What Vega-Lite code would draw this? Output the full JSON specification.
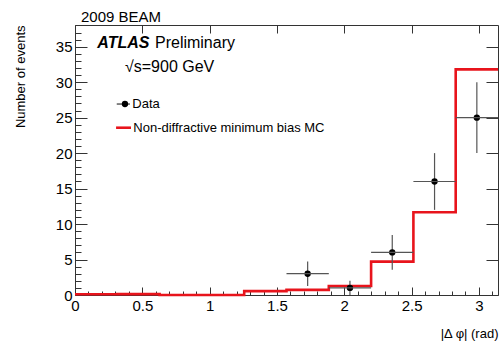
{
  "$schema": "https://vega.github.io/schema/vega-lite/v6.json",
  "width": 423,
  "height": 270,
  "autosize": {"type": "none"},
  "padding": {"left": 75, "top": 25, "right": 1, "bottom": 48},
  "title": {"text": "2009 BEAM", "anchor": "start", "frame": "group", "dx": 6, "offset": 0, "fontSize": 15, "fontWeight": "normal", "font": "Liberation Sans", "color": "black"},
  "config": {
    "view": {"stroke": "#333", "strokeWidth": 1}
  },
  "datasets": {
    "mc": [
      {"phi": 0, "n": 0.1}, {"phi": 0.3142, "n": 0.12}, {"phi": 0.6283, "n": 0.0}, {"phi": 0.9425, "n": 0.0},
      {"phi": 1.2566, "n": 0.55}, {"phi": 1.5708, "n": 0.72}, {"phi": 1.885, "n": 1.27}, {"phi": 2.1991, "n": 4.7},
      {"phi": 2.5133, "n": 11.66}, {"phi": 2.8274, "n": 31.8}, {"phi": 3.1416, "n": 31.8}
    ],
    "obs": [
      {"lo": 1.5708, "hi": 1.885, "c": 1.7279, "n": 3, "elo": 1.27, "ehi": 4.73},
      {"lo": 1.885, "hi": 2.1991, "c": 2.042, "n": 1, "elo": 0, "ehi": 2},
      {"lo": 2.1991, "hi": 2.5133, "c": 2.3562, "n": 6, "elo": 3.55, "ehi": 8.45},
      {"lo": 2.5133, "hi": 2.8274, "c": 2.6704, "n": 16, "elo": 12, "ehi": 20},
      {"lo": 2.8274, "hi": 3.1416, "c": 2.9845, "n": 25, "elo": 20, "ehi": 30}
    ],
    "legpt": [{"x": 0.371, "lo": 0.31, "hi": 0.408, "y": 26.92}],
    "legline": [{"lo": 0.305, "hi": 0.416, "y": 23.58}],
    "small": [
      {"x": 0.426, "y": 26.92, "t": "Data"},
      {"x": 0.433, "y": 23.58, "t": "Non-diffractive minimum bias MC"}
    ],
    "big": [
      {"x": 0.594, "y": 35.48, "t": "Preliminary"},
      {"x": 0.371, "y": 32.18, "t": "√s=900 GeV"}
    ],
    "atlas": [{"x": 0.166, "y": 35.48, "t": "ATLAS"}]
  },
  "layer": [
    {
      "data": {"name": "mc"},
      "mark": {"type": "line", "interpolate": "step-after", "color": "#e8141c", "strokeWidth": 2.6},
      "encoding": {
        "x": {"field": "phi", "type": "quantitative", "scale": {"domain": [0, 3.1416], "nice": false},
          "axis": {"orient": "bottom", "ticks": true, "tickSize": -8, "tickColor": "#333", "domain": false, "grid": false, "format": "~g", "values": [0, 0.5, 1, 1.5, 2, 2.5, 3], "labelFont": "Liberation Sans", "labelFontSize": 15, "labelColor": "black", "labelPadding": 11, "labelFlush": false, "title": "|Δ φ| (rad)", "titleFont": "Liberation Sans", "titleColor": "black", "titleAnchor": "end", "titleFontSize": 13, "titleFontWeight": "normal", "titlePadding": 14}},
        "y": {"field": "n", "type": "quantitative", "scale": {"domain": [0, 38.06], "nice": false},
          "axis": {"orient": "left", "ticks": true, "tickSize": -12, "tickColor": "#333", "domain": false, "grid": false, "values": [0, 5, 10, 15, 20, 25, 30, 35], "labelFont": "Liberation Sans", "labelFontSize": 15, "labelColor": "black", "labelPadding": 15, "labelFlush": false, "title": "Number of events", "titleFont": "Liberation Sans", "titleColor": "black", "titleAnchor": "end", "titleFontSize": 13, "titleFontWeight": "normal", "titlePadding": 28}}
      }
    },
    {
      "data": {"name": "obs"},
      "mark": {"type": "rule", "color": "#555", "strokeWidth": 1.2},
      "encoding": {
        "x": {"field": "c", "type": "quantitative", "scale": {"domain": [0, 3.1416], "nice": false},
          "axis": {"orient": "bottom", "labels": false, "title": null, "domain": false, "grid": false, "tickColor": "#333", "tickSize": -4, "values": [0.1, 0.2, 0.3, 0.4, 0.6, 0.7, 0.8, 0.9, 1.1, 1.2, 1.3, 1.4, 1.6, 1.7, 1.8, 1.9, 2.1, 2.2, 2.3, 2.4, 2.6, 2.7, 2.8, 2.9, 3.1]}},
        "y": {"field": "elo", "type": "quantitative", "scale": {"domain": [0, 38.06], "nice": false},
          "axis": {"orient": "left", "labels": false, "title": null, "domain": false, "grid": false, "tickColor": "#333", "tickSize": -6, "values": [1, 2, 3, 4, 6, 7, 8, 9, 11, 12, 13, 14, 16, 17, 18, 19, 21, 22, 23, 24, 26, 27, 28, 29, 31, 32, 33, 34, 36, 37, 38]}},
        "y2": {"field": "ehi"}
      }
    },
    {
      "data": {"name": "obs"},
      "mark": {"type": "circle", "color": "black", "opacity": 1, "size": 40},
      "encoding": {
        "x": {"field": "c", "type": "quantitative", "scale": {"domain": [0, 3.1416], "nice": false},
          "axis": {"orient": "top", "labels": false, "title": null, "domain": false, "grid": false, "tickColor": "#333", "tickSize": -8, "values": [0, 0.5, 1, 1.5, 2, 2.5, 3]}},
        "y": {"field": "n", "type": "quantitative", "scale": {"domain": [0, 38.06], "nice": false},
          "axis": {"orient": "right", "labels": false, "title": null, "domain": false, "grid": false, "tickColor": "#333", "tickSize": -12, "values": [0, 5, 10, 15, 20, 25, 30, 35]}}
      }
    },
    {
      "data": {"name": "obs"},
      "mark": {"type": "rule", "color": "#555", "strokeWidth": 1.2},
      "encoding": {
        "x": {"field": "lo", "type": "quantitative", "axis": {"labels": false, "ticks": false, "domain": false, "grid": false, "title": null}},
        "x2": {"field": "hi"},
        "y": {"field": "n", "type": "quantitative", "axis": {"labels": false, "ticks": false, "domain": false, "grid": false, "title": null}}
      }
    },
    {
      "data": {"name": "legpt"},
      "mark": {"type": "rule", "color": "#333", "strokeWidth": 1.2},
      "encoding": {
        "x": {"field": "lo", "type": "quantitative", "axis": {"labels": false, "ticks": false, "domain": false, "grid": false, "title": null}},
        "x2": {"field": "hi"},
        "y": {"field": "y", "type": "quantitative", "axis": {"labels": false, "ticks": false, "domain": false, "grid": false, "title": null}}
      }
    },
    {
      "data": {"name": "legpt"},
      "mark": {"type": "circle", "color": "black", "opacity": 1, "size": 40},
      "encoding": {
        "x": {"field": "x", "type": "quantitative", "axis": {"labels": false, "ticks": false, "domain": false, "grid": false, "title": null}},
        "y": {"field": "y", "type": "quantitative", "axis": {"labels": false, "ticks": false, "domain": false, "grid": false, "title": null}}
      }
    },
    {
      "data": {"name": "legline"},
      "mark": {"type": "rule", "color": "#e8141c", "strokeWidth": 2.6},
      "encoding": {
        "x": {"field": "lo", "type": "quantitative", "axis": {"labels": false, "ticks": false, "domain": false, "grid": false, "title": null}},
        "x2": {"field": "hi"},
        "y": {"field": "y", "type": "quantitative", "axis": {"labels": false, "ticks": false, "domain": false, "grid": false, "title": null}}
      }
    },
    {
      "data": {"name": "small"},
      "mark": {"type": "text", "align": "left", "baseline": "middle", "color": "black", "font": "Liberation Sans", "fontSize": 13},
      "encoding": {
        "x": {"field": "x", "type": "quantitative", "axis": {"labels": false, "ticks": false, "domain": false, "grid": false, "title": null}},
        "y": {"field": "y", "type": "quantitative", "axis": {"labels": false, "ticks": false, "domain": false, "grid": false, "title": null}},
        "text": {"field": "t"}
      }
    },
    {
      "data": {"name": "big"},
      "mark": {"type": "text", "align": "left", "baseline": "middle", "color": "black", "font": "Liberation Sans", "fontSize": 16},
      "encoding": {
        "x": {"field": "x", "type": "quantitative", "axis": {"labels": false, "ticks": false, "domain": false, "grid": false, "title": null}},
        "y": {"field": "y", "type": "quantitative", "axis": {"labels": false, "ticks": false, "domain": false, "grid": false, "title": null}},
        "text": {"field": "t"}
      }
    },
    {
      "data": {"name": "atlas"},
      "mark": {"type": "text", "align": "left", "baseline": "middle", "color": "black", "font": "Liberation Sans", "fontSize": 16, "fontWeight": "bold", "fontStyle": "italic"},
      "encoding": {
        "x": {"field": "x", "type": "quantitative", "axis": {"labels": false, "ticks": false, "domain": false, "grid": false, "title": null}},
        "y": {"field": "y", "type": "quantitative", "axis": {"labels": false, "ticks": false, "domain": false, "grid": false, "title": null}},
        "text": {"field": "t"}
      }
    }
  ],
  "resolve": {"axis": {"x": "independent", "y": "independent"}}
}
